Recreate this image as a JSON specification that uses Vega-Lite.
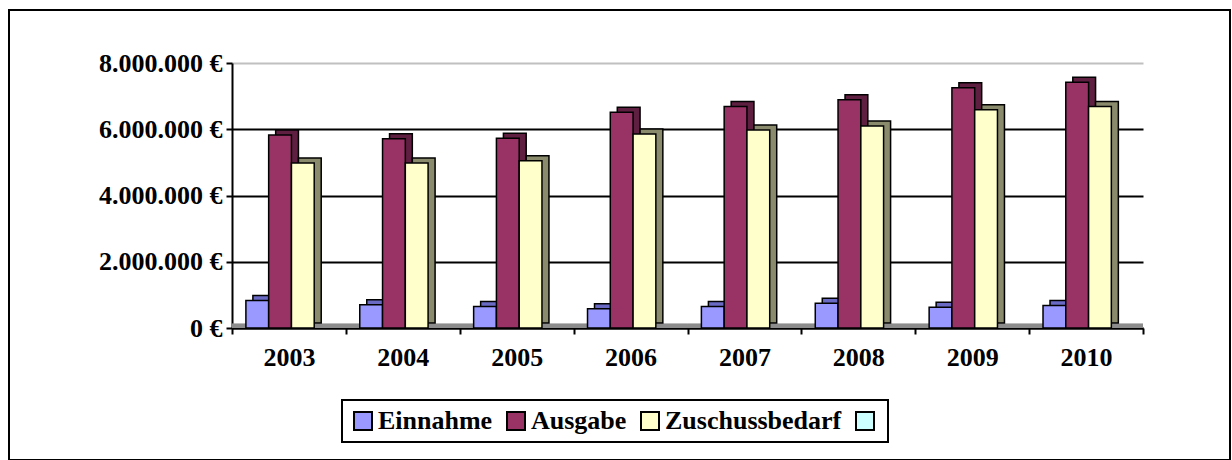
{
  "$schema": "https://vega.github.io/schema/vega-lite/v6.json",
  "width": 1221,
  "height": 450,
  "autosize": {"type": "none"},
  "padding": {"left": 9, "top": 10, "right": 2, "bottom": 0},
  "background": "white",
  "config": {
    "view": {"stroke": "black", "strokeWidth": 2, "fill": "white"},
    "font": "Liberation Serif",
    "legend": {"strokeWidth": 2}
  },
  "data": {
    "values": [
      {"year": "2003", "series": "Einnahme", "value": 830000},
      {"year": "2003", "series": "Ausgabe", "value": 5830000},
      {"year": "2003", "series": "Zuschussbedarf", "value": 4980000},
      {"year": "2004", "series": "Einnahme", "value": 700000},
      {"year": "2004", "series": "Ausgabe", "value": 5710000},
      {"year": "2004", "series": "Zuschussbedarf", "value": 4980000},
      {"year": "2005", "series": "Einnahme", "value": 650000},
      {"year": "2005", "series": "Ausgabe", "value": 5730000},
      {"year": "2005", "series": "Zuschussbedarf", "value": 5050000},
      {"year": "2006", "series": "Einnahme", "value": 580000},
      {"year": "2006", "series": "Ausgabe", "value": 6510000},
      {"year": "2006", "series": "Zuschussbedarf", "value": 5860000},
      {"year": "2007", "series": "Einnahme", "value": 650000},
      {"year": "2007", "series": "Ausgabe", "value": 6690000},
      {"year": "2007", "series": "Zuschussbedarf", "value": 5980000},
      {"year": "2008", "series": "Einnahme", "value": 750000},
      {"year": "2008", "series": "Ausgabe", "value": 6890000},
      {"year": "2008", "series": "Zuschussbedarf", "value": 6100000},
      {"year": "2009", "series": "Einnahme", "value": 630000},
      {"year": "2009", "series": "Ausgabe", "value": 7250000},
      {"year": "2009", "series": "Zuschussbedarf", "value": 6590000},
      {"year": "2010", "series": "Einnahme", "value": 680000},
      {"year": "2010", "series": "Ausgabe", "value": 7420000},
      {"year": "2010", "series": "Zuschussbedarf", "value": 6690000}
    ]
  },
  "encoding": {
    "x": {
      "field": "year",
      "type": "nominal",
      "scale": {"range": [223, 1134], "paddingInner": 0, "paddingOuter": 0},
      "axis": {
        "orient": "bottom",
        "offset": -132,
        "labelAngle": 0,
        "title": null,
        "grid": false,
        "domainColor": "black",
        "domainWidth": 2,
        "tickColor": "black",
        "tickWidth": 2,
        "tickSize": 6,
        "tickBand": "extent",
        "labelFont": "Liberation Serif",
        "labelFontSize": 26,
        "labelFontWeight": "bold",
        "labelColor": "black",
        "labelPadding": 10
      }
    },
    "y": {
      "field": "value",
      "type": "quantitative",
      "scale": {"domain": [0, 8000000], "range": [318, 53], "nice": false},
      "axis": {
        "values": [0, 2000000, 4000000, 6000000, 8000000],
        "labelExpr": "datum.value == 0 ? '0 €' : format(datum.value / 1000000, 'd') + '.000.000 €'",
        "offset": -223,
        "title": null,
        "grid": true,
        "gridColor": {"condition": {"test": "datum.value >= 8000000", "value": "#c0c0c0"}, "value": "black"},
        "gridWidth": 2,
        "domainColor": "black",
        "domainWidth": 2,
        "tickColor": "black",
        "tickWidth": 2,
        "tickSize": 6,
        "labelFont": "Liberation Serif",
        "labelFontSize": 26,
        "labelFontWeight": "bold",
        "labelColor": "black",
        "labelPadding": 4
      }
    }
  },
  "layer": [
    {
      "mark": {"type": "bar", "fill": "#8c8c8c", "stroke": null},
      "encoding": {
        "y": {"datum": 0},
        "y2": {"datum": 130000}
      }
    },
    {
      "mark": {"type": "bar", "yOffset": -5, "stroke": "black", "strokeWidth": 1.5},
      "encoding": {
        "xOffset": {
          "field": "series",
          "type": "nominal",
          "scale": {"domain": ["Einnahme", "Ausgabe", "Zuschussbedarf"], "range": [7, 120.875], "paddingInner": 0, "paddingOuter": 1.28, "align": 0.305}
        },
        "fill": {
          "field": "series",
          "type": "nominal",
          "scale": {"domain": ["Einnahme", "Ausgabe", "Zuschussbedarf"], "range": ["#6a6ac4", "#5e1f40", "#8a8a6c"]},
          "legend": null
        }
      }
    },
    {
      "mark": {"type": "bar", "stroke": "black", "strokeWidth": 1.5},
      "encoding": {
        "xOffset": {
          "field": "series",
          "type": "nominal",
          "scale": {"domain": ["Einnahme", "Ausgabe", "Zuschussbedarf"], "paddingInner": 0, "paddingOuter": 1.28, "align": 0.305}
        },
        "fill": {
          "field": "series",
          "type": "nominal",
          "scale": {"domain": ["Einnahme", "Ausgabe", "Zuschussbedarf", " "], "range": ["#9999ff", "#993366", "#ffffcc", "#ccffff"]},
          "legend": {
            "orient": "none",
            "legendX": 333,
            "legendY": 390,
            "direction": "horizontal",
            "title": null,
            "symbolType": "square",
            "symbolSize": 324,
            "symbolStrokeColor": "black",
            "symbolStrokeWidth": 2,
            "symbolOpacity": 1,
            "labelFont": "Liberation Serif",
            "labelFontSize": 26,
            "labelFontWeight": "bold",
            "labelColor": "black",
            "labelLimit": 0,
            "labelOffset": 2,
            "columnPadding": 10,
            "padding": 8,
            "strokeColor": "black",
            "fillColor": "white"
          }
        }
      }
    }
  ],
  "resolve": {"scale": {"fill": "independent", "xOffset": "independent"}}
}
